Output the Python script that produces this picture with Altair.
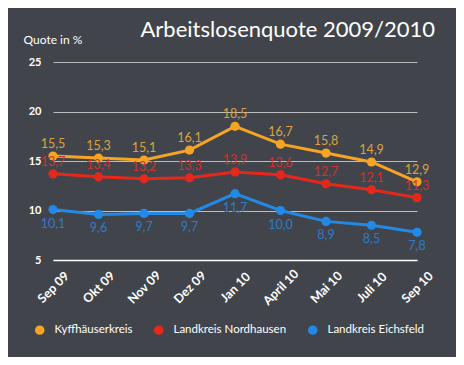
import altair as alt
import pandas as pd

months = ["Sep 09", "Okt 09", "Nov 09", "Dez 09", "Jan 10", "April 10", "Mai 10", "Juli 10", "Sep 10"]
series_names = ["Kyffhäuserkreis", "Landkreis Nordhausen", "Landkreis Eichsfeld"]
kyff = [15.5, 15.3, 15.1, 16.1, 18.5, 16.7, 15.8, 14.9, 12.9]
nord = [13.7, 13.4, 13.2, 13.3, 13.9, 13.6, 12.7, 12.1, 11.3]
eich = [10.1, 9.6, 9.7, 9.7, 11.7, 10.0, 8.9, 8.5, 7.8]
line_colors = ["#f5a424", "#e5271c", "#2389e6"]
label_colors = ["#dba244", "#c9342b", "#2f7bca"]
y_ticks = [5, 10, 15, 20, 25]

rows = []
for name, vals in zip(series_names, [kyff, nord, eich]):
    for i, (m, v) in enumerate(zip(months, vals)):
        rows.append({"Monat": m, "Kreis": name, "Quote": v,
                     "Label": f"{v:.1f}".replace(".", ","), "order": i})
df = pd.DataFrame(rows)

FONT = "Lato"

x_enc = alt.X("Monat:N", sort=months,
              scale=alt.Scale(type="point", padding=0),
              axis=alt.Axis(title=None, labelAngle=315, labelAlign="center",
                            labelBaseline="middle", labelPadding=27,
                            labelColor="white", labelFont=FONT, labelFontSize=12.5,
                            labelFontWeight="bold", ticks=False,
                            domainColor="white", domainWidth=1.5, grid=False))
y_enc = alt.Y("Quote:Q", scale=alt.Scale(domain=[5, 25], nice=False, zero=False),
              axis=alt.Axis(values=y_ticks, grid=True, gridColor="#bdbdbd", gridWidth=1,
                            domain=False, ticks=False, labelColor="white",
                            labelFont=FONT, labelFontSize=11, labelFontWeight="bold",
                            labelPadding=12,
                            title="Quote in %", titleAngle=0, titleX=-30, titleY=-19,
                            titleAlign="left", titleBaseline="alphabetic",
                            titleColor="white", titleFont=FONT, titleFontSize=12,
                            titleFontWeight="normal"))
color_enc = alt.Color("Kreis:N",
                      scale=alt.Scale(domain=series_names, range=line_colors),
                      legend=alt.Legend(title=None, orient="none", direction="horizontal",
                                        legendX=-19, legendY=262,
                                        symbolType="circle", symbolSize=90,
                                        symbolStrokeWidth=0, labelColor="white",
                                        labelFont=FONT, labelFontSize=11.5,
                                        labelOffset=9, columnPadding=20))

base = alt.Chart(df).encode(x=x_enc, y=y_enc, order="order:Q")

lines = base.mark_line(strokeWidth=3).encode(color=color_enc)
points = base.mark_point(filled=True, size=85, opacity=1).encode(color=color_enc)

def labels(name, col, dy):
    return alt.Chart(df).transform_filter(alt.datum.Kreis == name).mark_text(
        dy=dy, font=FONT, fontSize=12.5, color=col
    ).encode(x=x_enc, y=y_enc, text="Label:N")

chart = alt.layer(
    lines, points,
    labels(series_names[2], label_colors[2], 14),
    labels(series_names[1], label_colors[1], -12),
    labels(series_names[0], label_colors[0], -12),
).properties(
    width=364, height=198,
    padding={"left": 45, "top": 54, "right": 39, "bottom": 97},
    autosize=alt.AutoSizeParams(type="none"),
    background="#41454b",
    title=alt.TitleParams("Arbeitslosenquote 2009/2010", anchor="end", frame="group",
                          dx=18, offset=-9, color="white", font=FONT, fontSize=22,
                          fontWeight="normal"),
).configure_view(stroke=None)

chart.save("out.html", embed_options={"renderer": "svg", "actions": False})
